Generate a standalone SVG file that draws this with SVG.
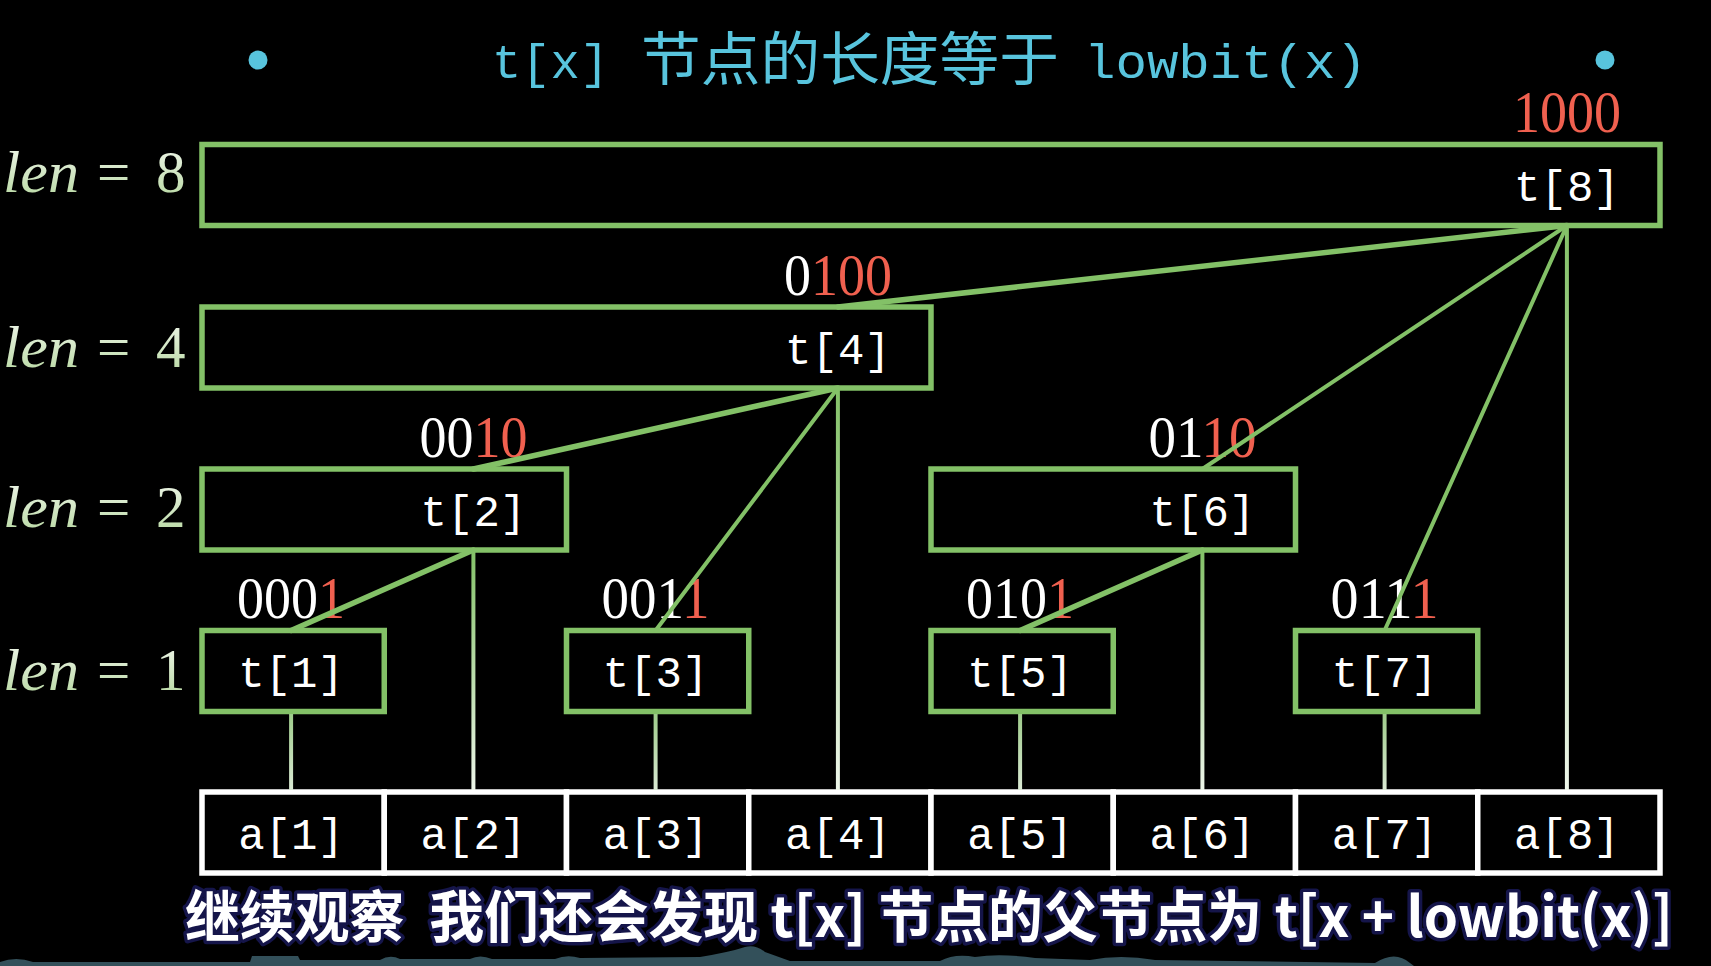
<svg xmlns="http://www.w3.org/2000/svg" width="1711" height="966" viewBox="0 0 1711 966">
<defs>
<style>
.box{fill:#000;stroke:#83c167;stroke-width:5.5}
.cell{fill:#000;stroke:#fff;stroke-width:5.5}
.lbl{font-family:"Liberation Mono","DejaVu Sans Mono",monospace;font-size:44px;fill:#fff;text-anchor:middle}
.bin{font-family:"Liberation Serif","DejaVu Serif",serif;font-size:59px;fill:#fff;text-anchor:middle}
.r{fill:#f0604f}
.len{font-family:"Liberation Serif","DejaVu Serif",serif;font-size:59px;fill:url(#lg)}
.it{font-style:italic}
.thick{stroke:#83c167;stroke-width:5.5;fill:none;stroke-linecap:round}
.thin{stroke:#83c167;stroke-width:4;fill:none;stroke-linecap:round}
.v{stroke-width:4;fill:none}
.tm{font-family:"Liberation Mono","DejaVu Sans Mono",monospace;font-size:48px;fill:#58c4dd}
.tc{font-family:"Noto Sans CJK SC",sans-serif;font-size:58px;fill:#58c4dd}
.sub{font-family:"Noto Sans CJK SC",sans-serif;font-weight:bold;font-size:56px;fill:#fff;stroke:#15154a;stroke-width:7;paint-order:stroke;stroke-linejoin:round}
</style>
<linearGradient id="lg" x1="0" y1="0" x2="0" y2="1">
<stop offset="0" stop-color="#f4f8f0"/>
<stop offset="1" stop-color="#b3d69c"/>
</linearGradient>
<linearGradient id="vg8" gradientUnits="userSpaceOnUse" x1="0" y1="225" x2="0" y2="792">
<stop offset="0" stop-color="#83c167"/><stop offset="1" stop-color="#eef6ea"/>
</linearGradient>
<linearGradient id="vg4" gradientUnits="userSpaceOnUse" x1="0" y1="388" x2="0" y2="792">
<stop offset="0" stop-color="#83c167"/><stop offset="1" stop-color="#eef6ea"/>
</linearGradient>
<linearGradient id="vg2" gradientUnits="userSpaceOnUse" x1="0" y1="550" x2="0" y2="792">
<stop offset="0" stop-color="#83c167"/><stop offset="1" stop-color="#eef6ea"/>
</linearGradient>
<linearGradient id="vg1" gradientUnits="userSpaceOnUse" x1="0" y1="711" x2="0" y2="792">
<stop offset="0" stop-color="#9ccb88"/><stop offset="1" stop-color="#dcead6"/>
</linearGradient>
</defs>
<rect x="0" y="0" width="1711" height="966" fill="#000"/>

<g id="title">
<circle cx="258" cy="60" r="9.5" fill="#58c4dd"/>
<circle cx="1605" cy="60" r="9.5" fill="#58c4dd"/>
<text class="tm" x="492" y="78" textLength="117" lengthAdjust="spacingAndGlyphs">t[x]</text>
<text class="tc" x="641" y="80" textLength="418" lengthAdjust="spacingAndGlyphs">节点的长度等于</text>
<text class="tm" x="1084" y="78" textLength="283" lengthAdjust="spacingAndGlyphs">lowbit(x)</text>
</g>

<g id="len-labels">
<text class="len it" x="3" y="192" textLength="76" lengthAdjust="spacingAndGlyphs">len</text><text class="len" x="97" y="192">=</text><text class="len" x="156" y="192">8</text>
<text class="len it" x="3" y="367" textLength="76" lengthAdjust="spacingAndGlyphs">len</text><text class="len" x="97" y="367">=</text><text class="len" x="156" y="367">4</text>
<text class="len it" x="3" y="527" textLength="76" lengthAdjust="spacingAndGlyphs">len</text><text class="len" x="97" y="527">=</text><text class="len" x="156" y="527">2</text>
<text class="len it" x="3" y="690" textLength="76" lengthAdjust="spacingAndGlyphs">len</text><text class="len" x="97" y="690">=</text><text class="len" x="156" y="690">1</text>
</g>

<g id="node-t8">
<rect class="box" x="202" y="144.5" width="1458" height="81"/>
<text class="lbl" x="1566.9" y="201">t[8]</text>
<text class="bin" x="1566.9" y="132" textLength="108" lengthAdjust="spacingAndGlyphs"><tspan class="r">1000</tspan></text>
</g>
<g id="node-t4">
<rect class="box" x="202" y="307" width="729" height="81"/>
<text class="lbl" x="837.9" y="363.5">t[4]</text>
<text class="bin" x="837.9" y="294.5" textLength="108" lengthAdjust="spacingAndGlyphs">0<tspan class="r">100</tspan></text>
</g>
<g id="node-t2">
<rect class="box" x="202" y="469" width="364.5" height="81"/>
<text class="lbl" x="473.4" y="525.5">t[2]</text>
<text class="bin" x="473.4" y="456.5" textLength="108" lengthAdjust="spacingAndGlyphs">00<tspan class="r">10</tspan></text>
</g>
<g id="node-t6">
<rect class="box" x="931" y="469" width="364.5" height="81"/>
<text class="lbl" x="1202.4" y="525.5">t[6]</text>
<text class="bin" x="1202.4" y="456.5" textLength="108" lengthAdjust="spacingAndGlyphs">01<tspan class="r">10</tspan></text>
</g>
<g id="node-t1">
<rect class="box" x="202" y="630.5" width="182.25" height="81"/>
<text class="lbl" x="291.1" y="687">t[1]</text>
<text class="bin" x="291.1" y="618" textLength="108" lengthAdjust="spacingAndGlyphs">000<tspan class="r">1</tspan></text>
</g>
<g id="node-t3">
<rect class="box" x="566.5" y="630.5" width="182.25" height="81"/>
<text class="lbl" x="655.6" y="687">t[3]</text>
<text class="bin" x="655.6" y="618" textLength="108" lengthAdjust="spacingAndGlyphs">001<tspan class="r">1</tspan></text>
</g>
<g id="node-t5">
<rect class="box" x="931" y="630.5" width="182.25" height="81"/>
<text class="lbl" x="1020.1" y="687">t[5]</text>
<text class="bin" x="1020.1" y="618" textLength="108" lengthAdjust="spacingAndGlyphs">010<tspan class="r">1</tspan></text>
</g>
<g id="node-t7">
<rect class="box" x="1295.5" y="630.5" width="182.25" height="81"/>
<text class="lbl" x="1384.6" y="687">t[7]</text>
<text class="bin" x="1384.6" y="618" textLength="108" lengthAdjust="spacingAndGlyphs">011<tspan class="r">1</tspan></text>
</g>

<g id="node-a">
<rect class="cell" x="202" y="792" width="182.25" height="81"/>
<rect class="cell" x="384.25" y="792" width="182.25" height="81"/>
<rect class="cell" x="566.5" y="792" width="182.25" height="81"/>
<rect class="cell" x="748.75" y="792" width="182.25" height="81"/>
<rect class="cell" x="931" y="792" width="182.25" height="81"/>
<rect class="cell" x="1113.25" y="792" width="182.25" height="81"/>
<rect class="cell" x="1295.5" y="792" width="182.25" height="81"/>
<rect class="cell" x="1477.75" y="792" width="182.25" height="81"/>
<text class="lbl" x="291.1" y="848.5">a[1]</text>
<text class="lbl" x="473.4" y="848.5">a[2]</text>
<text class="lbl" x="655.6" y="848.5">a[3]</text>
<text class="lbl" x="837.9" y="848.5">a[4]</text>
<text class="lbl" x="1020.1" y="848.5">a[5]</text>
<text class="lbl" x="1202.4" y="848.5">a[6]</text>
<text class="lbl" x="1384.6" y="848.5">a[7]</text>
<text class="lbl" x="1566.9" y="848.5">a[8]</text>
</g>

<g id="connectors">
<line class="thick" x1="837.9" y1="307" x2="1566.9" y2="225.5"/>
<line class="thin" x1="1202.4" y1="469" x2="1566.9" y2="225.5"/>
<line class="thin" x1="1384.6" y1="630.5" x2="1566.9" y2="225.5"/>
<line class="thick" x1="473.4" y1="469" x2="837.9" y2="388"/>
<line class="thin" x1="655.6" y1="630.5" x2="837.9" y2="388"/>
<line class="thick" x1="291.1" y1="630.5" x2="473.4" y2="550"/>
<line class="thick" x1="1020.1" y1="630.5" x2="1202.4" y2="550"/>
<line class="v" stroke="url(#vg8)" x1="1566.9" y1="228" x2="1566.9" y2="790"/>
<line class="v" stroke="url(#vg4)" x1="837.9" y1="390" x2="837.9" y2="790"/>
<line class="v" stroke="url(#vg2)" x1="473.4" y1="552" x2="473.4" y2="790"/>
<line class="v" stroke="url(#vg2)" x1="1202.4" y1="552" x2="1202.4" y2="790"/>
<line class="v" stroke="url(#vg1)" x1="291.1" y1="714" x2="291.1" y2="790"/>
<line class="v" stroke="url(#vg1)" x1="655.6" y1="714" x2="655.6" y2="790"/>
<line class="v" stroke="url(#vg1)" x1="1020.1" y1="714" x2="1020.1" y2="790"/>
<line class="v" stroke="url(#vg1)" x1="1384.6" y1="714" x2="1384.6" y2="790"/>
</g>

<path d="M0,966 L0,962 Q16,956 33,962 L250,962 L252,956 L298,956 L300,960 L380,960 Q390,954 400,959 L470,959 Q480,954 492,959 L555,959 Q567,954 580,958 L700,957 Q730,952 745,947 Q755,944 765,952 L790,961 L940,961 Q955,953 975,957 Q1000,953 1035,958 L1090,960 Q1120,954 1155,960 L1375,963 Q1395,950 1410,963 L1414,966 Z" fill="#33505a"/>

<text class="sub" x="185" y="937" textLength="1488" lengthAdjust="spacingAndGlyphs">继续观察&#160; 我们还会发现 t[x] 节点的父节点为 t[x + lowbit(x)]</text>
</svg>
